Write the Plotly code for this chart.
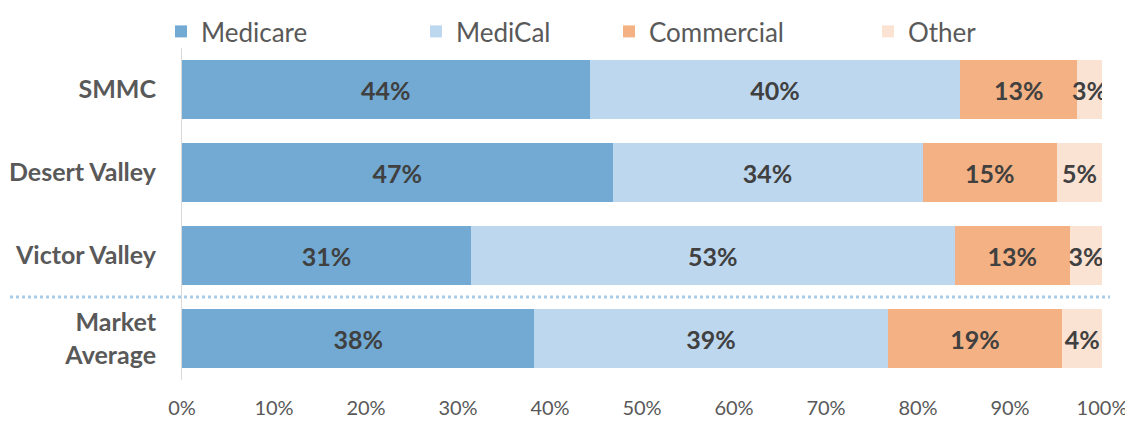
import plotly.graph_objects as go

categories = ["SMMC", "Desert Valley", "Victor Valley", "Market<br>Average"]
series_names = ["Medicare", "MediCal", "Commercial", "Other"]
medicare = [44.3, 46.8, 31.4, 38.3]
medical = [40.3, 33.7, 52.6, 38.4]
commercial = [12.7, 14.6, 12.5, 19.0]
other = [2.7, 4.9, 3.5, 4.3]
medicare_labels = ["44%", "47%", "31%", "38%"]
medical_labels = ["40%", "34%", "53%", "39%"]
commercial_labels = ["13%", "15%", "13%", "19%"]
other_labels = ["3%", "5%", "3%", "4%"]
x_ticks = [0, 10, 20, 30, 40, 50, 60, 70, 80, 90, 100]
x_tick_labels = ["0%", "10%", "20%", "30%", "40%", "50%", "60%", "70%", "80%", "90%", "100%"]

colors = ["#72AAD3", "#BDD7EE", "#F4B183", "#FBE3D4"]
values = [medicare, medical, commercial, other]
labels = [medicare_labels, medical_labels, commercial_labels, other_labels]
legend_ids = ["legend", "legend2", "legend3", "legend4"]
legend_x_px = [161, 416, 609, 868]

# page body has an 8px default margin; figure sized to fit the remaining window
OFF = 8
W, H = 1133 - OFF, 424 - OFF
FONT = "Lato"
L, R, T, B = 182 - OFF, 31, 48 - OFF, 44
PW = W - L - R

fig = go.Figure()
for name, vals, txt, col, lid in zip(series_names, values, labels, colors, legend_ids):
    fig.add_trace(go.Bar(
        y=categories, x=vals, name=name, orientation="h",
        marker=dict(color=col, line=dict(width=0)),
        text=txt, textposition="inside", insidetextanchor="middle",
        textangle=0, constraintext="none",
        textfont=dict(family=FONT, size=25, color="#404040", weight="bold"),
        width=0.7, legend=lid,
    ))

layout_legends = {}
for lid, px in zip(legend_ids, legend_x_px):
    layout_legends[lid] = dict(
        x=(px - OFF) / W, xref="container", xanchor="left",
        y=1, yref="container", yanchor="top",
        orientation="h", bgcolor="rgba(0,0,0,0)",
        font=dict(family=FONT, size=26, color="#595959"),
        itemclick=False,
    )

fig.update_layout(
    width=W, height=H, barmode="stack", bargap=0.3,
    margin=dict(l=L, r=R, t=T, b=B, pad=0, autoexpand=False),
    plot_bgcolor="white", paper_bgcolor="white",
    uniformtext=dict(minsize=25, mode="show"),
    showlegend=True,
    **layout_legends,
)
fig.update_xaxes(
    range=[0, 100], tickvals=x_ticks, ticktext=x_tick_labels,
    showgrid=False, zeroline=False, showline=False, automargin=False,
    tickfont=dict(family=FONT, size=20, color="#595959"),
    ticklabelstandoff=14,
)
fig.update_yaxes(
    autorange="reversed", showgrid=False, zeroline=False, automargin=False,
    showline=True, linecolor="#D9D9D9", linewidth=1,
    tickfont=dict(family=FONT, size=25, color="#595959", weight="bold"),
    ticklabelstandoff=20,
)
fig.add_shape(
    type="line", xref="paper", yref="y",
    x0=(10 - 182) / PW, x1=(1110 - 182) / PW, y0=2.5, y1=2.5,
    line=dict(color="#A9CCE8", width=3, dash="dot"),
    layer="above",
)
fig.write_html("out.html")
